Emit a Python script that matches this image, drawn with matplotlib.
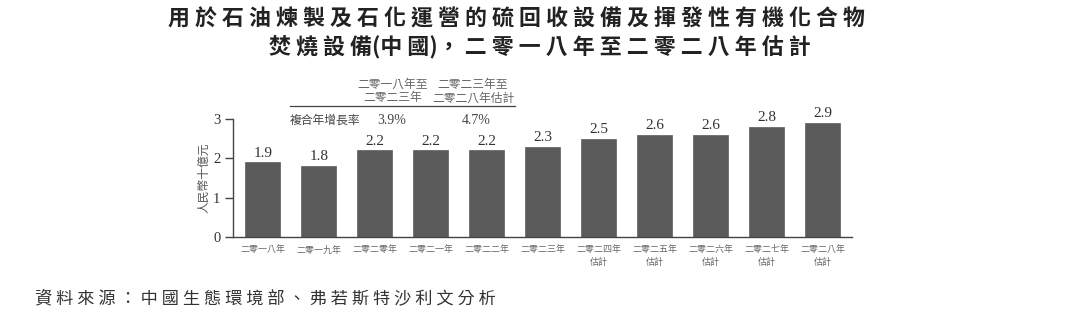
import matplotlib
matplotlib.use("Agg")
import matplotlib.pyplot as plt

# ---- data ----
categories = ["二零一八年", "二零一九年", "二零二零年", "二零二一年", "二零二二年", "二零二三年",
              "二零二四年\n估計", "二零二五年\n估計", "二零二六年\n估計", "二零二七年\n估計", "二零二八年\n估計"]
values = [1.9, 1.8, 2.2, 2.2, 2.2, 2.3, 2.5, 2.6, 2.6, 2.8, 2.9]
value_labels = ["1.9", "1.8", "2.2", "2.2", "2.2", "2.3", "2.5", "2.6", "2.6", "2.8", "2.9"]
yticks = [0, 1, 2, 3]
cagr_headers = ["二零一八年至\n二零二三年", "二零二三年至\n二零二八年估計"]
cagr_row_label = "複合年增長率"
cagr_values = ["3.9%", "4.7%"]
title_line1 = "用於石油煉製及石化運營的硫回收設備及揮發性有機化合物"
title_line2 = "焚燒設備(中國)，二零一八年至二零二八年估計"
source = "資料來源：中國生態環境部、弗若斯特沙利文分析"
ylabel = "人民幣十億元"

CJK = ["Noto Sans CJK TC", "DejaVu Sans"]
SERIF = ["Liberation Serif", "DejaVu Serif"]


def spaced(s, n=1):
    out = []
    for i, ch in enumerate(s):
        out.append(ch)
        if i < len(s) - 1 and ch not in "(（" and s[i + 1] not in ")）(，":
            out.append(" " * n)
    return "".join(out)


fig = plt.figure(figsize=(10.8, 3.22), dpi=100)
fig.patch.set_facecolor("white")
ax = fig.add_axes([233 / 1080, 1 - 237 / 322, (852 - 233) / 1080, (237 - 119) / 322])

x = list(range(len(values)))
ax.bar(x, values, width=0.625, color="#5b5b5b", edgecolor="#6a6a6a", linewidth=0.6, zorder=2)
for xi, v, lab in zip(x, values, value_labels):
    ax.text(xi, v + 0.07, lab, ha="center", va="bottom", fontsize=11, family=SERIF, color="#333333")

ax.set_xlim(-0.53, len(values) - 0.48)
ax.set_ylim(0, 3)
ax.set_yticks(yticks)
ax.set_yticklabels([str(t) for t in yticks], family=SERIF, fontsize=10.5, color="#333333")
ax.set_xticks(x)
ax.set_xticklabels(categories, family=CJK, fontsize=6.5, color="#666666", linespacing=1.5)
ax.tick_params(axis="x", length=0, pad=6)
ax.tick_params(axis="y", length=6, width=1, color="#444444", pad=3)
for s in ["top", "right"]:
    ax.spines[s].set_visible(False)
ax.spines["left"].set_color("#444444")
ax.spines["bottom"].set_color("#444444")
ax.spines["left"].set_linewidth(1.0)
ax.spines["bottom"].set_linewidth(1.0)
ax.set_ylabel(ylabel, family=CJK, fontsize=8.5, color="#555555")
ax.yaxis.set_label_coords(-0.036, 0.5)

# CAGR table
hdr = dict(family=CJK, fontsize=8.5, color="#666666", ha="right", va="center")
fig.text(428 / 1080, 1 - 84 / 322, cagr_headers[0].split("\n")[0], **hdr)
fig.text(422 / 1080, 1 - 98 / 322, cagr_headers[0].split("\n")[1], **hdr)
fig.text(508 / 1080, 1 - 84 / 322, cagr_headers[1].split("\n")[0], **hdr)
fig.text(515 / 1080, 1 - 98 / 322, cagr_headers[1].split("\n")[1], **hdr)
fig.add_artist(plt.Line2D([290 / 1080, 515 / 1080], [1 - 106 / 322, 1 - 106 / 322], color="#444444", linewidth=0.9))
fig.text(290 / 1080, 1 - 120 / 322, cagr_row_label, family=CJK, fontsize=8.5, color="#444444", ha="left", va="center")
fig.text(392 / 1080, 1 - 120 / 322, cagr_values[0], family=SERIF, fontsize=10, color="#444444", ha="center", va="center")
fig.text(476 / 1080, 1 - 120 / 322, cagr_values[1], family=SERIF, fontsize=10, color="#444444", ha="center", va="center")

# Title
fig.text(517 / 1080, 1 - 19 / 322, spaced(title_line1, 1), family=CJK, fontsize=15.8, fontweight="bold",
         color="#222222", ha="center", va="center")
fig.text(540 / 1080, 1 - 47 / 322, spaced(title_line2, 1), family=CJK, fontsize=15.8, fontweight="bold",
         color="#222222", ha="center", va="center")

# Source
fig.text(35 / 1080, 1 - 298 / 322, spaced(source, 1), family=CJK, fontsize=12.4, color="#333333",
         ha="left", va="center")

fig.savefig("out.png", dpi=100)
